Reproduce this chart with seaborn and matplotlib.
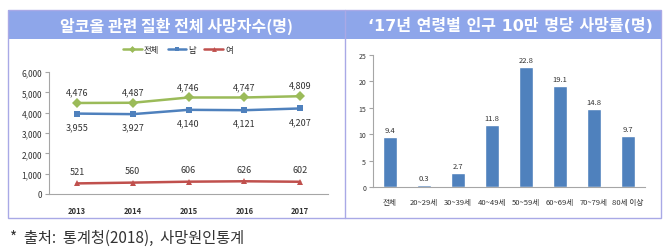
import matplotlib
matplotlib.use("Agg")
import matplotlib.pyplot as plt
import seaborn as sns
import pandas as pd
from matplotlib.patches import Rectangle
from matplotlib.lines import Line2D

sns.set_theme(style="white")
plt.rcParams['font.family'] = ['Noto Sans CJK KR', 'DejaVu Sans']

# ---- data ----
years = [2013, 2014, 2015, 2016, 2017]
total = [4476, 4487, 4746, 4747, 4809]
male = [3955, 3927, 4140, 4121, 4207]
female = [521, 560, 606, 626, 602]
series_names = ['전체', '남', '여']

age_groups = ['전체', '20~29세', '30~39세', '40~49세', '50~59세', '60~69세', '70~79세', '80세 이상']
rates = [9.4, 0.3, 2.7, 11.8, 22.8, 19.1, 14.8, 9.7]

title_left = '알코올 관련 질환 전체 사망자수(명)'
title_right = "\u201817년 연령별 인구 10만 명당 사망률(명)"
source_text = '*  출처:  통계청(2018),  사망원인통계'

colors = {'전체': '#9BBB59', '남': '#4F81BD', '여': '#C0504D'}
markers = {'전체': 'D', '남': 's', '여': '^'}
bar_color = '#4F81BD'

W, H = 670, 251
fig = plt.figure(figsize=(W / 100, H / 100), dpi=100)
fig.patch.set_facecolor('white')

def fx(px):
    return px / W

def fy(py):
    return (H - py) / H

# frame and header
border = '#A9A9E6'
fig.patches.append(Rectangle((fx(8), fy(40)), fx(661) - fx(8), fy(11) - fy(40),
                             transform=fig.transFigure, facecolor='#8EA6EA', edgecolor='none', zorder=0))
fig.patches.append(Rectangle((fx(8), fy(219)), fx(661) - fx(8), fy(11) - fy(219),
                             transform=fig.transFigure, facecolor='none', edgecolor=border, lw=1.0, zorder=1))
fig.lines.append(Line2D([fx(345), fx(345)], [fy(11), fy(219)], transform=fig.transFigure,
                        color=border, lw=1.0, zorder=1))

fig.text(fx(177), fy(26), title_left, color='white', fontsize=11.5, fontweight='bold',
         ha='center', va='center')
fig.text(fx(510), fy(26), title_right, color='white', fontsize=11.5, fontweight='bold',
         ha='center', va='center', family=['DejaVu Sans', 'Noto Sans CJK KR'])
fig.text(fx(10), fy(238), source_text, color='#333333', fontsize=11, ha='left', va='center')

# ---- left line chart ----
ax1 = fig.add_axes([fx(49), fy(195), fx(328) - fx(49), fy(73) - fy(195)])
ax1.set_facecolor('none')
df = pd.DataFrame({
    'year': years * 3,
    'value': total + male + female,
    'series': ['전체'] * 5 + ['남'] * 5 + ['여'] * 5,
})
sns.lineplot(data=df, x='year', y='value', hue='series', style='series',
             hue_order=series_names, style_order=series_names,
             palette=colors, markers=markers, dashes=False, markersize=5,
             markeredgewidth=0, linewidth=1.8, ax=ax1, legend=False)
ax1.set_xlim(2012.5, 2017.5)
ax1.set_ylim(0, 6000)
ax1.set_xticks(years)
ax1.set_xticklabels([str(y) for y in years], fontsize=5.5, color='#333333', fontweight='bold')
ax1.set_yticks(range(0, 6001, 1000))
ax1.set_yticklabels([f'{v:,}' for v in range(0, 6001, 1000)], fontsize=6, color='#333333')
ax1.set_xlabel('')
ax1.set_ylabel('')
for s in ['top', 'right']:
    ax1.spines[s].set_visible(False)
for s in ['left', 'bottom']:
    ax1.spines[s].set_color('#A6A6A6')
    ax1.spines[s].set_linewidth(0.8)
ax1.tick_params(axis='y', which='both', left=True, length=3, width=0.8, color='#A6A6A6', pad=2)
ax1.tick_params(axis='x', which='both', bottom=False, pad=3)

for x, v in zip(years, total):
    ax1.annotate(f'{v:,}', (x, v), xytext=(0, 11), textcoords='offset pixels',
                 ha='center', va='center', fontsize=6.5, color='#333333')
for x, v in zip(years, male):
    ax1.annotate(f'{v:,}', (x, v), xytext=(0, -13), textcoords='offset pixels',
                 ha='center', va='center', fontsize=6.5, color='#333333')
for x, v in zip(years, female):
    ax1.annotate(f'{v:,}', (x, v), xytext=(0, 12), textcoords='offset pixels',
                 ha='center', va='center', fontsize=6.5, color='#333333')

handles = [Line2D([0], [0], color=colors[n], marker=markers[n], markersize=3.5,
                  markeredgewidth=0, lw=1.8) for n in series_names]
fig.legend(handles, series_names, loc='center', bbox_to_anchor=(fx(178), fy(50)),
           ncol=3, frameon=False, fontsize=6, handlelength=2.2, handletextpad=0.3,
           columnspacing=1.0, borderpad=0)

# ---- right bar chart ----
ax2 = fig.add_axes([fx(373), fy(188), fx(645) - fx(373), fy(56) - fy(188)])
ax2.set_facecolor('none')
sns.barplot(x=age_groups, y=rates, color=bar_color, width=0.4, saturation=1, ax=ax2)
ax2.set_xlim(-0.5, len(age_groups) - 0.5)
ax2.set_ylim(0, 25)
ax2.set_yticks(range(0, 26, 5))
ax2.set_yticklabels([str(v) for v in range(0, 26, 5)], fontsize=5, color='#333333')
ax2.tick_params(axis='x', labelsize=5.5, colors='#333333', bottom=False, pad=2)
ax2.tick_params(axis='y', left=True, length=3, width=0.8, color='#A6A6A6', pad=2)
for s in ['top', 'right']:
    ax2.spines[s].set_visible(False)
for s in ['left', 'bottom']:
    ax2.spines[s].set_color('#A6A6A6')
    ax2.spines[s].set_linewidth(0.8)
for i, v in enumerate(rates):
    ax2.annotate(f'{v}', (i, v), xytext=(0, 7), textcoords='offset pixels',
                 ha='center', va='center', fontsize=5.5, color='#333333')

fig.savefig('out.png', dpi=100, facecolor='white')
